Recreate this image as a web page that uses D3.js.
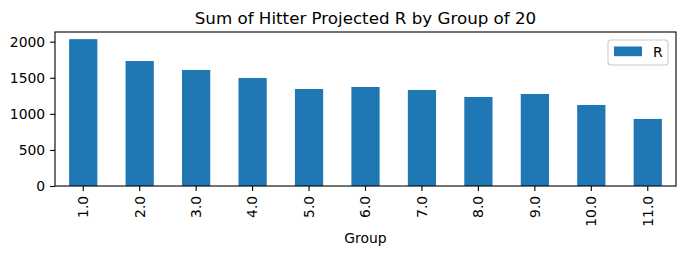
<!DOCTYPE html>
<html>
<head>
<meta charset="utf-8">
<script src="https://cdn.jsdelivr.net/npm/d3@7"></script>
<style>
  body { margin: 0; background: #fff; }
  text { font-family: "DejaVu Sans", sans-serif; fill: #000; }
</style>
</head>
<body>
<div class="main"></div>
<script>
let groups = ['1.0', '2.0', '3.0', '4.0', '5.0', '6.0', '7.0', '8.0', '9.0', '10.0', '11.0'];
let runs = [2035, 1732, 1608, 1497, 1344, 1372, 1331, 1234, 1275, 1123, 929];
let yTicks = [0, 500, 1000, 1500, 2000];

let opts = { width: 684, height: 256, left: 55, right: 676, top: 32, bottom: 186 };
let fs = 13.9;

let svg = d3.select('.main').append('svg')
  .attr('width', opts.width)
  .attr('height', opts.height);

let x = d3.scaleBand().domain(groups).range([opts.left, opts.right]).paddingInner(0).paddingOuter(0);
let y = d3.scaleLinear().domain([0, 2134]).range([opts.bottom, opts.top]);

// bars (width 0.5 of the band, like pandas)
svg.selectAll('rect.bar').data(runs).enter().append('rect')
  .attr('class', 'bar')
  .attr('x', (d, i) => x(groups[i]) + x.bandwidth() * 0.25)
  .attr('width', x.bandwidth() * 0.5)
  .attr('y', d => y(d))
  .attr('height', d => y(0) - y(d))
  .attr('fill', '#1f77b4');

// y axis
let yAxis = svg.append('g')
  .attr('transform', `translate(${opts.left},0)`)
  .call(d3.axisLeft(y).tickValues(yTicks).tickFormat(d3.format('d')).tickSize(4.9).tickPadding(4.9));
yAxis.select('.domain').remove();
yAxis.selectAll('text').attr('font-size', fs).attr('font-family', 'DejaVu Sans');
yAxis.selectAll('line').attr('stroke', '#000').attr('stroke-width', 1.1);

// x axis
let xAxis = svg.append('g')
  .attr('transform', `translate(0,${opts.bottom})`)
  .call(d3.axisBottom(x).tickSize(4.9).tickPadding(4.9));
xAxis.select('.domain').remove();
xAxis.selectAll('line').attr('stroke', '#000').attr('stroke-width', 1.1);
xAxis.selectAll('text')
  .attr('font-size', fs)
  .attr('font-family', 'DejaVu Sans')
  .attr('transform', 'rotate(-90)')
  .attr('x', -9.8)
  .attr('y', 0)
  .attr('dy', '0.35em')
  .style('text-anchor', 'end');

// frame
svg.append('rect')
  .attr('x', opts.left).attr('y', opts.top)
  .attr('width', opts.right - opts.left).attr('height', opts.bottom - opts.top)
  .attr('fill', 'none').attr('stroke', '#000').attr('stroke-width', 1.1);

// title
svg.append('text')
  .attr('x', (opts.left + opts.right) / 2).attr('y', 24)
  .attr('text-anchor', 'middle').attr('font-size', 16.7)
  .text('Sum of Hitter Projected R by Group of 20');

// x label
svg.append('text')
  .attr('x', (opts.left + opts.right) / 2).attr('y', 243)
  .attr('text-anchor', 'middle').attr('font-size', fs)
  .text('Group');

// legend
let legend = svg.append('g').attr('transform', 'translate(608,40)');
legend.append('rect')
  .attr('width', 60).attr('height', 25).attr('rx', 3)
  .attr('fill', '#fff').attr('fill-opacity', 0.8)
  .attr('stroke', '#ccc').attr('stroke-width', 1.1);
legend.append('rect')
  .attr('x', 6).attr('y', 6.5).attr('width', 28).attr('height', 9.7)
  .attr('fill', '#1f77b4');
legend.append('text')
  .attr('x', 45).attr('y', 16.5).attr('font-size', fs)
  .text('R');
</script>
</body>
</html>
